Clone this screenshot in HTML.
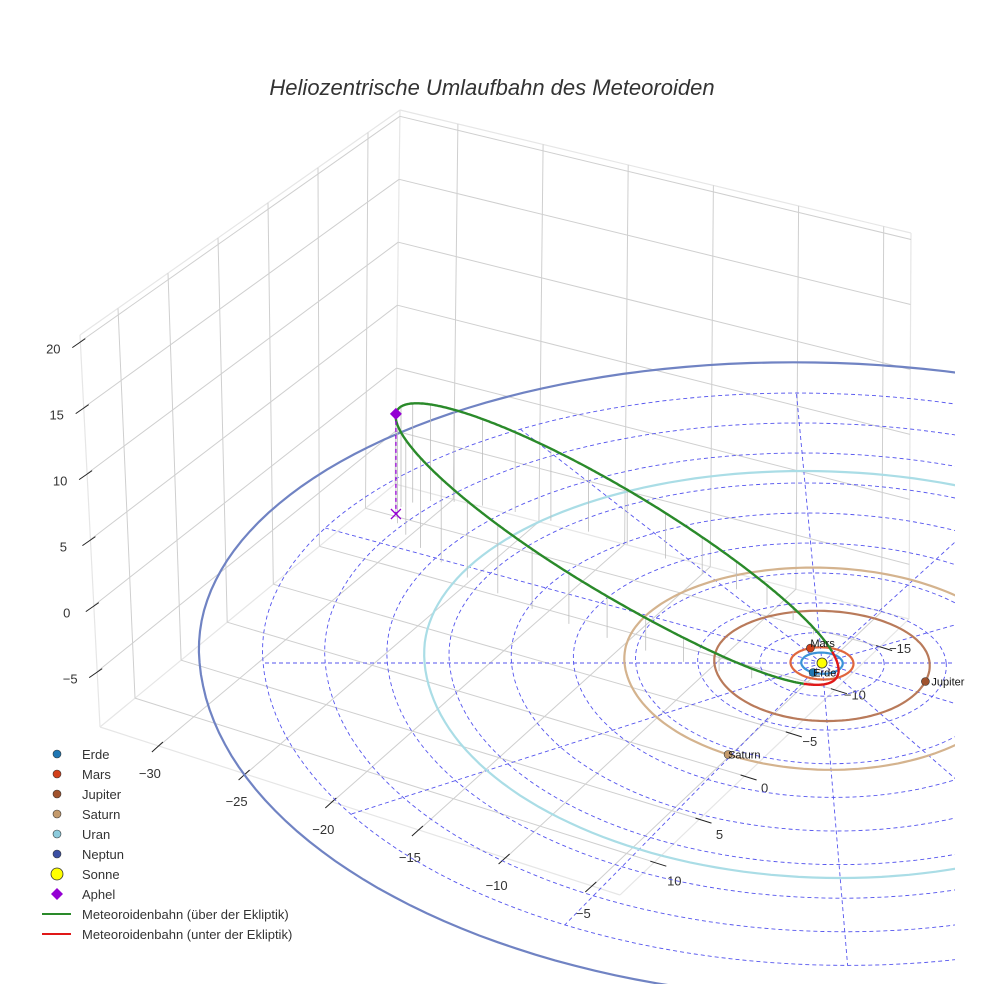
<!DOCTYPE html>
<html><head><meta charset="utf-8"><style>
body{margin:0;background:#fff;}
svg{display:block;font-family:"Liberation Sans",sans-serif;}
</style></head><body>
<svg id="chart" width="984" height="984" viewBox="0 0 984 984">
<defs><clipPath id="plotclip"><rect x="0" y="0" width="955" height="984"/></clipPath></defs>
<rect width="984" height="984" fill="#fff"/>
<text x="492" y="95" text-anchor="middle" font-size="22" font-style="italic" fill="#333">Heliozentrische Umlaufbahn des Meteoroiden</text>
<g id="box"></g>
<g id="ecl" clip-path="url(#plotclip)"></g>
<g id="orbit"></g>
<g id="marks"></g>
<g id="legend"></g>
</svg>
<script>
// ---- data ----
const xTicks = [-30, -25, -20, -15, -10, -5];
const yTicks = [10, 5, 0, -5, -10, -15];
const zTicks = [20, 15, 10, 5, 0, -5];
const planetNames = ["Erde", "Mars", "Jupiter", "Saturn", "Uran", "Neptun"];
const planetRadii = [1.0, 1.52, 5.2, 9.54, 19.2, 30.07];
const planetAnglesDeg = [-118, 109, -19, -121, null, null];
const planetOrbitColors = ["#3b93d8", "#e0663e", "#b97a5a", "#d4b38e", "#aadde6", "#7083c3"];
const planetDotColors = ["#1f77b4", "#d2401a", "#a0522d", "#c49a6c", "#8ccbdd", "#3b4fa3"];
const gridRingRadii = [3, 6, 9, 12, 15, 18, 21, 24, 27];
const gridSpokeAnglesDeg = [0, 30, 60, 90, 120, 150, 180, 210, 240, 270, 300, 330];
const aphelion = [-19.9, 14.9, 7.7];
const perihelionDist = [1.0];
const minorAxisVec = [0.7, 4.7, 0.5];

const NS = "http://www.w3.org/2000/svg";
function mk(parent, tag, attrs){const e=document.createElementNS(NS,tag);for(const k in attrs)e.setAttribute(k,attrs[k]);parent.appendChild(e);return e;}

// ---- ecliptic projection ----
function P(X,Y,Z){
  const sy = 10.6 - 0.6*Math.tanh(Y/3);
  return [822 + 20.7*X - 0.95*Y, 663 - sy*Y - 13*Z];
}
// ---- box projection ----
const BL=[100,727],FR=[620,895],BB=[395,484],BR=[909,619],TL=[80,335],TB=[400,110],TR=[911,233],TF=[622,509];
function bil(a,b,c,d,u,v){return [(1-u)*(1-v)*a[0]+u*(1-v)*b[0]+(1-u)*v*c[0]+u*v*d[0],(1-u)*(1-v)*a[1]+u*(1-v)*b[1]+(1-u)*v*c[1]+u*v*d[1]];}
function B(fx,fy,fz){const f=bil(BL,FR,BB,BR,fx,fy),t=bil(TL,TF,TB,TR,fx,fy);return [t[0]+(f[0]-t[0])*fz,t[1]+(f[1]-t[1])*fz];}
const fxOf=x=>(x+33.4)/30, fyOf=y=>(13.8-y)/32, fzOf=z=>(20.5-z)/29.7;

const box=document.getElementById('box');
function bline(a,b,col,w){return mk(box,'line',{x1:a[0].toFixed(1),y1:a[1].toFixed(1),x2:b[0].toFixed(1),y2:b[1].toFixed(1),stroke:col,'stroke-width':w});}
[[B(0,0,0),B(0,1,0)],[B(0,1,0),B(1,1,0)],[B(0,0,0),B(0,0,1)],[B(0,1,0),B(0,1,1)],[B(1,1,0),B(1,1,1)],[B(0,0,1),B(1,0,1)],[B(1,0,1),B(1,1,1)],[B(0,0,1),B(0,1,1)],[B(0,1,1),B(1,1,1)]].forEach(s=>{
  const l=bline(s[0],s[1],'#e6e6e6',1.2);
  
  
});
xTicks.forEach(v=>{const f=fxOf(v);
  let l=bline(B(f,0,1),B(f,1,1),'#cfcfcf',1);
  l=bline(B(f,1,0),B(f,1,1),'#cfcfcf',1);
  const p=B(f,0,1);
  l=bline([p[0]+4,p[1]-4],[p[0]-7,p[1]+6],'#222',1);
  const t=mk(box,'text',{x:(p[0]-9).toFixed(1),y:(p[1]+32).toFixed(1),'text-anchor':'middle','font-size':13,fill:'#333'});t.textContent=String(v).replace('-','\u2212');
  
});
yTicks.forEach(v=>{const f=fyOf(v);
  let l=bline(B(0,f,1),B(1,f,1),'#cfcfcf',1);
  l=bline(B(0,f,0),B(0,f,1),'#cfcfcf',1);
  const p=B(1,f,1);
  l=bline([p[0]-4,p[1]-1],[p[0]+12,p[1]+4],'#222',1);
  const t=mk(box,'text',{x:(p[0]+20).toFixed(1),y:(p[1]+26-22*f).toFixed(1),'text-anchor':'middle','font-size':13,fill:'#333'});t.textContent=String(v).replace('-','\u2212');
  
});
zTicks.forEach(v=>{const f=fzOf(v);
  let l=bline(B(0,0,f),B(0,1,f),'#cfcfcf',1);
  l=bline(B(0,1,f),B(1,1,f),'#cfcfcf',1);
  const p=B(0,0,f);
  l=bline([p[0]+5,p[1]-3],[p[0]-8,p[1]+6],'#222',1);
  const t=mk(box,'text',{x:(p[0]-27).toFixed(1),y:(p[1]+12).toFixed(1),'text-anchor':'middle','font-size':13,fill:'#333'});t.textContent=String(v).replace('-','\u2212');
  
});

// ---- ecliptic grid & planet orbits ----
const ecl=document.getElementById('ecl');
function ringPath(r){let d='';for(let i=0;i<=180;i++){const a=i/180*2*Math.PI;const p=P(r*Math.cos(a),r*Math.sin(a),0);d+=(i?'L':'M')+p[0].toFixed(1)+' '+p[1].toFixed(1);}return d;}
gridRingRadii.forEach(r=>{
  const e=mk(ecl,'path',{d:ringPath(r),fill:'none',stroke:'#5555ee','stroke-width':0.9,'stroke-dasharray':'4 3'});
  
  
});
const rMax=gridRingRadii[gridRingRadii.length-1];
gridSpokeAnglesDeg.forEach(dg=>{const a=dg*Math.PI/180;const p=P(0,0,0),q=P(rMax*Math.cos(a),rMax*Math.sin(a),0);
  const e=mk(ecl,'line',{x1:p[0],y1:p[1],x2:q[0].toFixed(1),y2:q[1].toFixed(1),stroke:'#5555ee','stroke-width':0.9,'stroke-dasharray':'4 3'});
  
  
});
planetRadii.forEach((r,i)=>{
  const e=mk(ecl,'path',{d:ringPath(r),fill:'none',stroke:planetOrbitColors[i],'stroke-width':2.2});
  
  
});

// ---- meteoroid orbit ----
const orb=document.getElementById('orbit');
const Alen=Math.hypot(aphelion[0],aphelion[1],aphelion[2]);
const u=aphelion.map(v=>v/Alen), pdir=u.map(v=>-v);
const q=perihelionDist[0], a=(q+Alen)/2, e=(Alen-q)/(Alen+q);
function orbitPt(E){const c=a*(Math.cos(E)-e),s=Math.sin(E);return [0,1,2].map(k=>c*pdir[k]+s*minorAxisVec[k]);}
for(let i=0;i<=72;i++){const E=i/72*2*Math.PI;const r=orbitPt(E);if(r[2]<0.4||i%2)continue;
  const p1=P(r[0],r[1],r[2]),p0=P(r[0],r[1],0);
  const l=mk(orb,'line',{x1:p1[0].toFixed(1),y1:p1[1].toFixed(1),x2:p0[0].toFixed(1),y2:p0[1].toFixed(1),stroke:'#bdbdbd','stroke-width':0.8});
  
  
}
let segs=[],cur=null;
for(let i=0;i<=720;i++){const E=i/720*2*Math.PI;const r=orbitPt(E);const above=r[2]>=0;const p=P(r[0],r[1],r[2]);
  if(!cur||cur.above!==above){if(cur)cur.pts.push(p);cur={above,pts:[]};segs.push(cur);}
  cur.pts.push(p);}
segs.forEach(s=>{
  const l=mk(orb,'polyline',{points:s.pts.map(p=>p[0].toFixed(1)+','+p[1].toFixed(1)).join(' '),fill:'none',stroke:s.above?'#2a8a2a':'#e01818','stroke-width':2.4,'stroke-linejoin':'round'});
  
  
});

// ---- markers ----
const mks=document.getElementById('marks');
const ap=P(aphelion[0],aphelion[1],aphelion[2]),ap0=P(aphelion[0],aphelion[1],0);
let el=mk(mks,'line',{x1:ap[0],y1:ap[1],x2:ap0[0],y2:ap0[1],stroke:'#9400d3','stroke-width':1.3,'stroke-dasharray':'4 3'});


el=mk(mks,'path',{d:`M${ap0[0]-5} ${ap0[1]-5}L${ap0[0]+5} ${ap0[1]+5}M${ap0[0]-5} ${ap0[1]+5}L${ap0[0]+5} ${ap0[1]-5}`,stroke:'#9400d3','stroke-width':1.3});


el=mk(mks,'path',{d:`M${ap[0]} ${ap[1]-6}L${ap[0]+6} ${ap[1]}L${ap[0]} ${ap[1]+6}L${ap[0]-6} ${ap[1]}Z`,fill:'#9400d3'});


const sp=P(0,0,0);
el=mk(mks,'circle',{cx:sp[0],cy:sp[1],r:5,fill:'#ffff00',stroke:'#333','stroke-width':0.8});


planetAnglesDeg.forEach((dg,i)=>{if(dg===null)return;const r=planetRadii[i],an=dg*Math.PI/180;const p=P(r*Math.cos(an),r*Math.sin(an),0);
  const c=mk(mks,'circle',{cx:p[0].toFixed(1),cy:p[1].toFixed(1),r:4,fill:planetDotColors[i],stroke:'#333','stroke-width':0.6});
  
  
  const t=mk(mks,'text',{x:(p[0]+(i===2?6:0)).toFixed(1),y:(p[1]+(i===1?-1:4)).toFixed(1),'font-size':11,fill:'#111'});
  t.textContent=planetNames[i];
  
  
});

// ---- legend ----
const lg=document.getElementById('legend');
const legendLabels=["Erde","Mars","Jupiter","Saturn","Uran","Neptun","Sonne","Aphel","Meteoroidenbahn (über der Ekliptik)","Meteoroidenbahn (unter der Ekliptik)"];
legendLabels.forEach((lab,i)=>{const y=754+i*20;
  const g=mk(lg,'g',{});
  
  
  if(i<6)mk(g,'circle',{cx:57,cy:y,r:4,fill:planetDotColors[i],stroke:'#333','stroke-width':0.6});
  else if(i===6)mk(g,'circle',{cx:57,cy:y,r:6,fill:'#ffff00',stroke:'#333','stroke-width':0.8});
  else if(i===7)mk(g,'path',{d:`M57 ${y-6}L63 ${y}L57 ${y+6}L51 ${y}Z`,fill:'#9400d3'});
  else mk(g,'line',{x1:42,y1:y,x2:71,y2:y,stroke:i===8?'#2a8a2a':'#e01818','stroke-width':2});
  const t=mk(g,'text',{x:82,y:y+5,'font-size':13,fill:'#333'});t.textContent=lab;
});
</script>
</body></html>
